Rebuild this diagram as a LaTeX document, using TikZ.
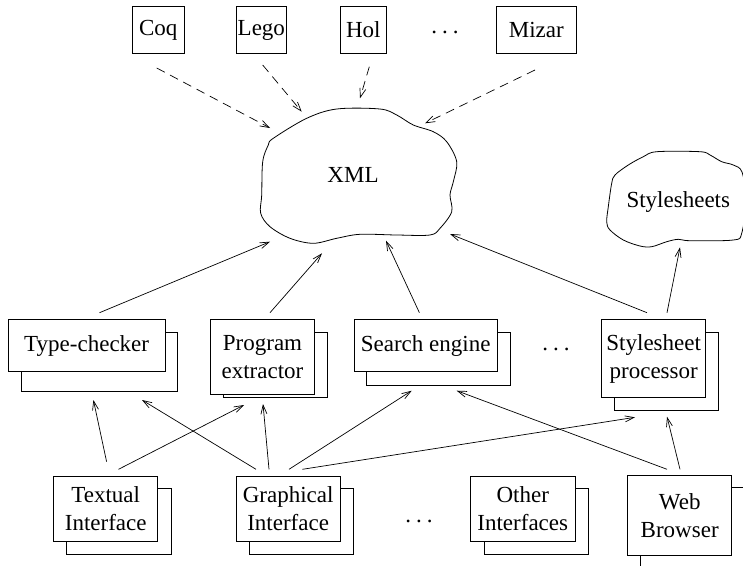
\documentclass[tikz,border=0pt]{standalone}
\usepackage{fontspec}
\setmainfont{Liberation Serif}
\usetikzlibrary{arrows.meta}
\begin{document}
\begin{tikzpicture}[x=1pt,y=-1pt,
  boxnode/.style={draw,line width=0.8pt,fill=white,inner sep=0pt,align=center,font=\fontsize{23}{28}\selectfont},
  shadowbox/.style={draw,line width=0.8pt,fill=white},
  cloudline/.style={draw,line width=0.8pt},
  arr/.style={line width=0.7pt,-{Straight Barb[length=9pt,width=6pt]}},
  darr/.style={arr,dash pattern=on 9pt off 6pt},
  lbl/.style={font=\fontsize{23}{28}\selectfont,inner sep=0pt},
]
\useasboundingbox (0,0) rectangle (743,565);
\clip (0,0) rectangle (743,565);

% top boxes
\node[boxnode,minimum width=52pt,minimum height=46.6pt] (coq) at (158.3,30) {Coq};
\node[boxnode,minimum width=50.7pt,minimum height=46.6pt] (lego) at (261.35,30) {Lego};
\node[boxnode,minimum width=46.7pt,minimum height=46.6pt] (hol) at (363.35,30) {Hol};
\node[lbl] (tdots) at (445,32) {.\hspace{5pt}.\hspace{5pt}.};
\node[boxnode,minimum width=79.3pt,minimum height=46.6pt] (mizar) at (536.35,30) {Mizar};

% XML cloud
\draw[cloudline] plot[smooth cycle,tension=0.55] coordinates{
 (273.3,138.3) (306.7,118.3) (336.7,109) (380,109) (396.7,115) (413.3,125)
 (433.3,131.7) (446.7,141.7) (456.7,161.7) (453.3,181.7) (450,195) (451.7,211.7)
 (440,228.3) (430,235) (396.7,235) (360,234.3) (336.7,238.3) (313.3,243.3)
 (290,238.3) (270,226.7) (260.7,213.3) (261.7,195) (262.7,161.7) (268.3,145)};
\node[lbl] (xml) at (353,175) {XML};

% Stylesheets cloud
\draw[cloudline] plot[smooth cycle,tension=0.55] coordinates{
 (615,175) (628.3,165) (643.3,156.7) (656.7,151.7) (700,151.7) (710,155)
 (721.7,161.7) (733.3,165) (742,172) (746,200) (741.7,233.3) (733.3,240)
 (690,240.7) (678.3,239.3) (666.7,241.7) (651.7,246.7) (640,246) (623.3,240)
 (610,230) (606.7,222) (608.3,206.7) (611.7,183.3)};
\node[lbl] (ss) at (678.3,201.7) {Stylesheets};

% middle row
\draw[shadowbox] (21.7,332.3) rectangle (177.7,391);
\node[boxnode,minimum width=156.7pt,minimum height=52.4pt] (tc) at (86.65,345.5) {Type-checker};
\draw[shadowbox] (223.3,332.3) rectangle (327.7,397.7);
\node[boxnode,minimum width=103.6pt,minimum height=75pt] (pe) at (262.5,356.8) {Program\\extractor};
\draw[shadowbox] (366.7,332.3) rectangle (510.7,385);
\node[boxnode,minimum width=143.3pt,minimum height=52.4pt] (se) at (425.65,345.5) {Search engine};
\node[lbl] (mdots) at (556,349.5) {.\hspace{5pt}.\hspace{5pt}.};
\draw[shadowbox] (614.3,332.3) rectangle (718.3,410.7);
\node[boxnode,minimum width=104pt,minimum height=78.4pt] (sp) at (653.7,358.5) {Stylesheet\\processor};

% bottom row
\draw[shadowbox] (66.8,488.7) rectangle (171,554);
\node[boxnode,minimum width=104.2pt,minimum height=65pt] (ti) at (105.7,508.5) {Textual\\Interface};
\draw[shadowbox] (249.3,488.7) rectangle (353.6,554);
\node[boxnode,minimum width=104.3pt,minimum height=65pt] (gi) at (288.15,508.5) {Graphical\\Interface};
\node[lbl] (bdots) at (419,521) {.\hspace{5pt}.\hspace{5pt}.};
\draw[shadowbox] (484.4,488.7) rectangle (588.6,554);
\node[boxnode,minimum width=104.3pt,minimum height=65pt] (oi) at (522.75,508.5) {Other\\Interfaces};
\draw[shadowbox] (640,487.7) rectangle (760,580);
\node[boxnode,minimum width=104pt,minimum height=79.3pt] (wb) at (679.7,515.35) {Web\\Browser};

% connector end points
\coordinate (coq-o) at (156.7,68);   \coordinate (xml-coq) at (270,128);
\coordinate (lego-o) at (262.7,65);  \coordinate (xml-lego) at (301.7,111.7);
\coordinate (hol-o) at (369.3,66.7); \coordinate (xml-hol) at (360,98.3);
\coordinate (mizar-o) at (535,70);   \coordinate (xml-mizar) at (425,123.3);

\coordinate (tc-o) at (99.5,312.7);  \coordinate (xml-tc) at (270,241.7);
\coordinate (pe-o) at (270,312.7);   \coordinate (xml-pe) at (322,253.3);
\coordinate (se-o) at (419.4,312.7); \coordinate (xml-se) at (386,240.7);
\coordinate (sp-o) at (647,312.7);   \coordinate (xml-sp) at (450,234);
\coordinate (sp-o2) at (667,312.7);  \coordinate (ss-sp) at (680,247.3);

\coordinate (ti-o1) at (106.6,461.7); \coordinate (tc-ti) at (93.4,400);
\coordinate (ti-o2) at (118.5,469.3); \coordinate (pe-ti) at (244,405);
\coordinate (gi-o1) at (256,469.3);   \coordinate (tc-gi) at (142,400);
\coordinate (gi-o2) at (269,469.3);   \coordinate (pe-gi) at (263,404);
\coordinate (gi-o3) at (289,469.3);   \coordinate (se-gi) at (411.7,390.7);
\coordinate (gi-o4) at (302.4,469.3); \coordinate (sp-gi) at (635,417.3);
\coordinate (wb-o1) at (667,469.3);   \coordinate (se-wb) at (456.7,390.7);
\coordinate (wb-o2) at (680,469.3);   \coordinate (sp-wb) at (667,416.7);

% dashed
\draw[darr] (coq-o) -- (xml-coq);
\draw[darr] (lego-o) -- (xml-lego);
\draw[darr] (hol-o) -- (xml-hol);
\draw[darr] (mizar-o) -- (xml-mizar);

% solid
\draw[arr] (tc-o) -- (xml-tc);
\draw[arr] (pe-o) -- (xml-pe);
\draw[arr] (se-o) -- (xml-se);
\draw[arr] (sp-o) -- (xml-sp);
\draw[arr] (sp-o2) -- (ss-sp);
\draw[arr] (ti-o1) -- (tc-ti);
\draw[arr] (ti-o2) -- (pe-ti);
\draw[arr] (gi-o1) -- (tc-gi);
\draw[arr] (gi-o2) -- (pe-gi);
\draw[arr] (gi-o3) -- (se-gi);
\draw[arr] (gi-o4) -- (sp-gi);
\draw[arr] (wb-o1) -- (se-wb);
\draw[arr] (wb-o2) -- (sp-wb);
\end{tikzpicture}
\end{document}
